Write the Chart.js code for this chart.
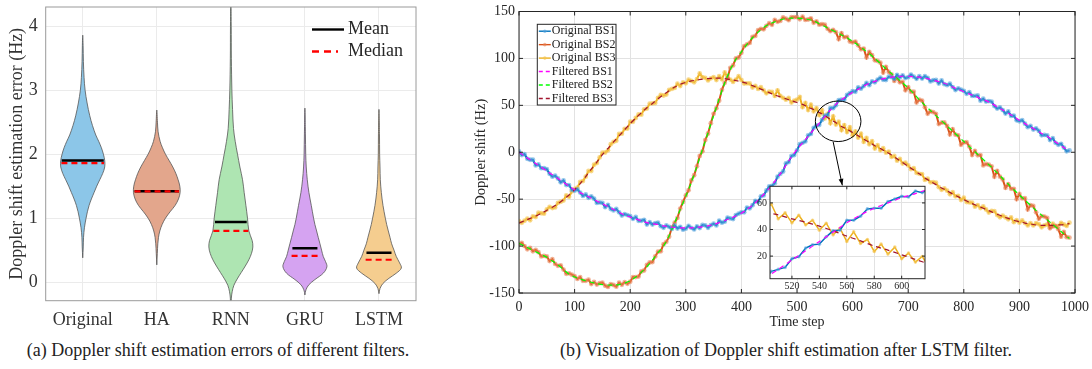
<!DOCTYPE html>
<html>
<head>
<meta charset="utf-8">
<script src="https://cdn.jsdelivr.net/npm/chart.js@4.4.0/dist/chart.umd.min.js"></script>
<style>
  body { margin: 0; background: #fff; width: 1092px; height: 369px; overflow: hidden; position: relative; font-family: 'Liberation Serif', 'Times New Roman', serif; }
  canvas { position: absolute; }
  #violin { left: 0; top: 0; }
  #doppler { left: 460px; top: 0; }
  #zoomBox { left: 740px; top: 180px; }
  .cap { position: absolute; top: 339px; font-size: 18px; line-height: 22px; text-align: center; color: #222; white-space: nowrap; }
</style>
</head>
<body>
<canvas id="violin" width="440" height="335"></canvas>
<canvas id="doppler" width="632" height="335"></canvas>
<canvas id="zoomBox" width="190" height="115"></canvas>
<div class="cap" style="left:0;width:436px">(a) Doppler shift estimation errors of different filters.</div>
<div class="cap" style="left:560px;width:430px">(b) Visualization of Doppler shift estimation after LSTM filter.</div>
<script>
// ---------- (a) violin plot data ----------
const groups = ['Original', 'HA', 'RNN', 'GRU', 'LSTM'];
const meanErr = [1.90, 1.42, 0.94, 0.53, 0.46];
const medianErr = [1.86, 1.42, 0.80, 0.41, 0.35];
// half length of the mean / median bars (group units)
const meanHalf = [0.284, 0.30, 0.214, 0.169, 0.169];
const medianHalf = [0.288, 0.30, 0.236, 0.18, 0.18];

// violin outlines: error level (Hz) -> half width (group units)
const origLevels = [0.38, 0.55, 0.7, 0.85, 1.0, 1.1, 1.2, 1.3, 1.4, 1.5, 1.6, 1.7, 1.8, 1.9, 2.0, 2.1, 2.2, 2.3, 2.45, 2.6, 2.8, 3.0, 3.2, 3.45, 3.7, 3.86];
const origWidth = [0, 0.007, 0.011, 0.023, 0.045, 0.063, 0.086, 0.117, 0.153, 0.189, 0.230, 0.270, 0.297, 0.297, 0.279, 0.252, 0.216, 0.176, 0.131, 0.095, 0.059, 0.032, 0.018, 0.009, 0.005, 0];
const haLevels = [0.27, 0.45, 0.6, 0.7, 0.8, 0.9, 1.0, 1.1, 1.2, 1.3, 1.4, 1.5, 1.6, 1.7, 1.8, 1.9, 2.0, 2.1, 2.2, 2.35, 2.5, 2.69];
const haWidth = [0, 0.007, 0.014, 0.023, 0.041, 0.072, 0.117, 0.180, 0.248, 0.293, 0.315, 0.311, 0.288, 0.257, 0.216, 0.167, 0.117, 0.077, 0.045, 0.018, 0.009, 0];
const rnnLevels = [-0.5, -0.25, -0.15, -0.05, 0.05, 0.15, 0.25, 0.35, 0.45, 0.55, 0.65, 0.8, 1.0, 1.2, 1.4, 1.6, 1.8, 2.0, 2.2, 2.4, 2.7, 3.0, 3.5, 4.0, 4.5];
const rnnWidth = [0, 0.007, 0.018, 0.041, 0.086, 0.140, 0.194, 0.243, 0.279, 0.297, 0.288, 0.243, 0.225, 0.203, 0.180, 0.158, 0.122, 0.090, 0.059, 0.036, 0.023, 0.014, 0.007, 0.005, 0];
const gruLevels = [-0.2, -0.12, -0.04, 0.04, 0.14, 0.24, 0.32, 0.4, 0.5, 0.6, 0.7, 0.8, 0.9, 1.0, 1.2, 1.4, 1.6, 1.8, 2.0, 2.3, 2.72];
const gruWidth = [0, 0.014, 0.054, 0.135, 0.248, 0.297, 0.279, 0.248, 0.225, 0.203, 0.180, 0.158, 0.135, 0.117, 0.086, 0.054, 0.032, 0.018, 0.011, 0.007, 0];
const lstmLevels = [-0.18, -0.1, -0.02, 0.06, 0.14, 0.22, 0.3, 0.4, 0.5, 0.6, 0.7, 0.8, 0.9, 1.0, 1.2, 1.4, 1.6, 1.8, 2.0, 2.3, 2.7];
const lstmWidth = [0, 0.014, 0.054, 0.135, 0.234, 0.302, 0.279, 0.234, 0.203, 0.171, 0.149, 0.126, 0.104, 0.086, 0.054, 0.032, 0.018, 0.014, 0.009, 0.007, 0];

// ---------- (b) Doppler shift traces ----------
// originals sampled every 5 steps (t = 0..990), filtered every 10 steps
const bs1Orig = [1,-3,-2,-7,-8,-8,-14,-13,-17,-17, -18,-23,-26,-25,-28,-32,-30,-35,-35,-40,
  -41,-39.5,-43,-46.5,-45,-48.5,-47,-49.5,-54,-53.5, -54,-58.5,-56,-60.5,-62,-60.5,-64,-67.5,-66,-67,
  -68,-71,-69,-73,-73,-72,-77,-74.5,-77,-75.5, -75,-78.75,-80.5,-78,-79.5,-81.75,-78,-81.25,-79.5,-82.5,
  -81.5,-78.5,-80.5,-82.25,-79,-80.75,-77.5,-78,-80.5,-77.75, -76,-78,-73,-75,-74,-69.75,-70.5,-71.25,-67,-65.5,
  -64,-64,-59,-59.75,-56.5,-51.75,-53,-47,-46,-40.75, -36.5,-35.75,-33,-26,-23,-20.5,-12,-10.5,-4,-3,
  2,8.5,10,11.5,18,19.5,26,28.5,29,34.5, 39,39.5,47,47,50,55.5,56,56,61,63,
  65,64.5,69,67.75,70.5,74,71.5,75.5,74.5,77.5, 79.5,77.25,77,80.5,80,78.25,82.5,79.75,82,79,
  80,82.75,80.5,78.25,81,78.5,81,79.25,75.5,76.75, 77,73.25,76.5,72.5,71.5,73,69.5,66.25,68,66.75,
  65.5,62.25,64,60,60,60.5,55,57,54,54.5, 54,49.25,46.5,47.75,45,41.25,43.5,38.75,39,34,
  33,34.25,30.5,26.75,28,24.25,25.5,22.75,18,18.5, 18,13,15,10,8,9,5,1,2];
const bs2Orig = [-98,-96.5,-100,-103.5,-102,-105.5,-104,-106.5,-111,-110.5, -111,-116,-114,-119,-121,-120.5,-125,-129.5,-129,-130.5,
  -132,-135,-133,-137,-137,-135.75,-140.5,-138.25,-141,-139.5, -139,-142.25,-143.5,-140.5,-141.5,-143.25,-139,-141.25,-138.5,-140.25,
  -138,-133,-133,-132.5,-127,-126,-120,-117.5,-117,-111, -106,-105.5,-98,-95.5,-90,-80,-75,-70,-60,-53,
  -46,-40.5,-30,-24.5,-15,-4,1,13,20,31, 41,47,55,66.5,74,79,90,92.5,100,101,
  106,113,115,116.5,123,124,130,131.5,131,134.75, 137.5,135.75,141,139,140,143.75,142.5,140.75,144,144,
  144,141.75,144.5,141,141.5,142.75,138,139.5,136,136.5, 136,131.5,129,130.5,128,120.5,127,122.5,123,118,
  117,118,114,109.75,110.5,101,107,103.5,98,97.25, 95.5,85,91,85.5,83,76,79,74.5,75,66,
  69.5,64.5,64.5,53,56,55,48,41,43.5,42.75, 41,30,31.5,31.75,28,19,24.5,18.75,18,8,
  10.5,10.75,6,-3,1.5,-3.25,-3,-14,-12.5,-13.25, -15,-26,-20,-26,-29,-38,-34,-39,-39,-50,
  -44.5,-49.25,-49,-61,-56.5,-57.25,-64,-71,-68,-68.5, -70,-81,-79,-78.5,-82,-90,-85,-90.5,-91];
const bs3Orig = [-73.5,-75.25,-73,-70.75,-72.5,-68.25,-69,-64.5,-65,-65.5, -61,-58.25,-59.5,-58.75,-54,-52.75,-51.5,-46,-47.5,-41.75,
  -39,-37.75,-31.5,-30.75,-26,-20,-20,-13.25,-11.5,-5.5, -0.5,-0.25,2,8.5,11,12.25,19.5,19.75,25,25.25,
  32.5,32.5,36.5,40.25,40,45.75,46.5,51.75,52,52.5, 58,61.25,60.5,61.5,66.5,67.5,68.5,73,70.5,74.5,
  73.5,77.25,76,74.5,78,84,80,79.25,76.5,78.75, 80,77,81,77.75,85,80,77.5,75,77.5,81,
  77,73.25,73.5,73.25,69,70.75,67.5,69.25,66,62.75, 64.5,64.25,60,66,60,58,56,58,53,55,
  56,59,48,52.5,45,50.75,43.5,47,39.5,44.75, 36,41,31,38.25,29.5,32.5,23.5,29,21.5,26.75,
  18,22.25,15.5,19.75,11,15.25,8.5,11.75,4,7.5, 2,4.25,-0.5,0.75,-5,-4,-9,-7,-12,-11,
  -14,-18,-17,-22,-23,-23.25,-29.5,-28.25,-32,-31.75, -32.5,-37.25,-40,-38.5,-41,-44.75,-42.5,-47,-46.5,-51,
  -48.5,-53,-53.5,-53.75,-58,-56.25,-59.5,-57.75,-61,-64.25, -62.5,-62.75,-67,-69.25,-67.5,-69.5,-71.5,-69.5,-74.5,-72.25,
  -75,-72.75,-75.5,-78,-75.5,-78,-75.5,-76.75,-80,-78, -77,-80,-76,-78.75,-78.5,-75.25,-77,-78.5,-75];
const bs1Filt = [0,-4,-8,-12,-16,-20,-24,-28,-32,-36, -40,-43,-46,-49,-52,-55,-58,-61,-64,-67,
  -69,-71,-73,-75,-76,-77,-78.5,-79.5,-80,-80.5, -80.5,-80.5,-80,-79.5,-78.5,-77,-75,-73,-70.5,-68,
  -65,-61,-56.5,-51,-45,-38.5,-31,-23,-14,-5, 3,10,17,24,31,38,45,51,56,60,
  64,67,70.5,73.5,75.5,77.5,79,80,80.5,81, 81,80.5,80,79,77.5,76,74.5,72.5,69.5,67,
  64.5,62,60,57,55,52,48.5,45,41.5,38, 34,30.5,27,23.5,20,17,13,9,5,1];
const bs2Filt = [-97,-100,-103,-106,-109,-112,-116,-120,-125,-130, -133,-135,-137,-138.5,-140,-141,-141.5,-141.5,-141,-139.5,
  -137,-133,-128,-122,-115,-107,-100,-89,-75,-61, -47,-32,-15,3,21,39,57,74,88,99,
  107,115,122,128,133,136.5,139,141,142.5,143, 143,142.5,141.5,140,137,134,131,128,125,122,
  118,114,109.5,105,100,94.5,89,84,79,74, 68.5,62.5,56,50,44.5,39,33.5,28,22.5,17,
  11.5,6,0.5,-5,-10.5,-16,-22,-28,-34,-40, -45.5,-51,-56.5,-62,-67,-72,-77,-82,-87,-92];
const bs3Filt = [-75.5,-73,-70.5,-68,-65,-62,-58.5,-55,-50.5,-45.5, -40,-33.5,-26,-18,-10.5,-2.5,4,11,17.5,24,
  30.5,36.5,42,47.5,52,57,61.5,65.5,69.5,72.5, 74.5,76,77,78,78.5,79,79,78.5,77.5,76.5,
  75,73.5,71,68.5,66,63.5,61,59,57,55, 53,51,48,45.5,42.5,39,35,31.5,27.5,24.5,
  21,17.5,14,10.5,7,4,0.5,-3,-7,-11, -15,-19,-23,-27.5,-31,-34.5,-38,-41,-44.5,-47.5,
  -50.5,-53.5,-56,-58.5,-61,-63.5,-66,-68.5,-70.5,-72.5, -74,-75.5,-76.5,-77.5,-78,-78,-78,-77.5,-77,-76];
const origStep = 5, filtStep = 10;
const seriesNames = ['Original BS1', 'Original BS2', 'Original BS3', 'Filtered BS1', 'Filtered BS2', 'Filtered BS3'];
const timeTicks = [0, 100, 200, 300, 400, 500, 600, 700, 800, 900, 1000];
const shiftTicks = [-150, -100, -50, 0, 50, 100, 150];
const zoomTimeTicks = [520, 540, 560, 580, 600];
const zoomShiftTicks = [20, 40, 60];

Chart.defaults.font.family = "'Liberation Serif', 'Times New Roman', serif";
Chart.defaults.color = '#262626';
Chart.defaults.animation = false;
Chart.defaults.events = [];
Chart.defaults.plugins.legend.display = false;
Chart.defaults.plugins.tooltip.enabled = false;

// no extra room for half tick labels: the plot boxes are placed by hand
const noPad = s => { s.paddingTop = 0; s.paddingBottom = 0; s.paddingLeft = 0; s.paddingRight = 0; };

// ---------------- (a) ----------------
const levels = [origLevels, haLevels, rnnLevels, gruLevels, lstmLevels];
const widths = [origWidth, haWidth, rnnWidth, gruWidth, lstmWidth];
const violinFill = ['#8cc6e8', '#e3a68c', '#aee5b2', '#d5a3f1', '#f5cd8f'];

function outline(c, lv, w) {
  const pts = lv.map((y, k) => ({x: c + w[k], y: y}));
  for (let k = lv.length - 2; k > 0; k--) pts.push({x: c - w[k], y: lv[k]});
  pts.push({x: c, y: lv[0]});
  return pts;
}
function bars(vals, half) {
  const pts = [];
  vals.forEach((v, i) => {
    pts.push({x: i + 1 - half[i], y: v}, {x: i + 1 + half[i], y: v}, {x: i + 1.5, y: null});
  });
  return pts;
}

const violinSets = groups.map((g, i) => ({
  label: g,
  data: outline(i + 1, levels[i], widths[i]),
  backgroundColor: violinFill[i],
  borderColor: '#555',
  borderWidth: 0.8,
  fill: 'shape',
  tension: 0.35,
  pointRadius: 0
}));

const violinFrame = {
  id: 'violinFrame',
  afterDraw(chart) {
    const {ctx, chartArea: a} = chart;
    ctx.save();
    ctx.strokeStyle = '#9a9a9a';
    ctx.lineWidth = 1;
    ctx.strokeRect(a.left, a.top, a.right - a.left, a.bottom - a.top);
    // legend
    ctx.lineWidth = 2.4;
    ctx.strokeStyle = '#000';
    ctx.beginPath(); ctx.moveTo(a.right - 104, a.top + 22.5); ctx.lineTo(a.right - 72, a.top + 22.5); ctx.stroke();
    ctx.strokeStyle = '#ff0000';
    ctx.setLineDash([7, 5]);
    ctx.beginPath(); ctx.moveTo(a.right - 104, a.top + 44.5); ctx.lineTo(a.right - 78, a.top + 44.5); ctx.stroke();
    ctx.setLineDash([]);
    ctx.fillStyle = '#262626';
    ctx.font = "18px 'Liberation Serif'";
    ctx.textBaseline = 'middle';
    ctx.fillText('Mean', a.right - 68, a.top + 22.5);
    ctx.fillText('Median', a.right - 68, a.top + 44.5);
    ctx.restore();
  }
};

new Chart(document.getElementById('violin'), {
  type: 'line',
  data: {
    datasets: [
      {label: 'Median', data: bars(medianErr, medianHalf), borderColor: '#ff0000', borderWidth: 2.2, borderDash: [6, 4], pointRadius: 0, fill: false},
      {label: 'Mean', data: bars(meanErr, meanHalf), borderColor: '#000', borderWidth: 2.4, pointRadius: 0, fill: false}
    ].concat(violinSets)
  },
  options: {
    responsive: false,
    layout: {padding: {left: 0, right: 24, top: 7, bottom: 0}},
    scales: {
      x: {
        type: 'linear', min: 0.5, max: 5.5,
        afterBuildTicks: s => { s.ticks = groups.map((g, i) => ({value: i + 1})); },
        afterFit: s => { s.height = 34.3; noPad(s); },
        ticks: {callback: v => groups[v - 1], font: {size: 18}, padding: 9, color: '#333'},
        grid: {color: '#ebebeb', drawTicks: false},
        border: {display: false}
      },
      y: {
        min: -0.29, max: 4.3,
        afterBuildTicks: s => { s.ticks = [0, 1, 2, 3, 4].map(v => ({value: v})); },
        afterFit: s => { s.width = 45.7; noPad(s); },
        ticks: {callback: v => String(v), font: {size: 18}, padding: 8, color: '#333'},
        grid: {color: '#ebebeb', drawTicks: false},
        border: {display: false},
        title: {display: true, text: 'Doppler shift estimation error (Hz)', font: {size: 18}, padding: {top: 6, bottom: 0}, color: '#333'}
      }
    }
  },
  plugins: [violinFrame]
});

// ---------------- (b) ----------------
const origColor = ['#0072bd', '#d95319', '#edb120'];
const haloColor = ['rgba(80,160,220,0.6)', 'rgba(232,130,85,0.6)', 'rgba(244,196,80,0.65)'];
const filtColor = ['#ff00ff', '#00ff00', '#a2142f'];
const origData = [bs1Orig, bs2Orig, bs3Orig];
const filtData = [bs1Filt, bs2Filt, bs3Filt];

function traceSets(r, w) {
  const sets = [];
  origData.forEach((arr, i) => sets.push({
    label: seriesNames[i],
    data: arr.map((v, k) => ({x: k * origStep, y: v})),
    borderColor: origColor[i], borderWidth: w,
    pointRadius: r, pointBorderWidth: 0, pointBackgroundColor: haloColor[i],
    fill: false, tension: 0, order: 1
  }));
  filtData.forEach((arr, i) => sets.push({
    label: seriesNames[i + 3],
    data: arr.map((v, k) => ({x: k * filtStep, y: v})),
    borderColor: filtColor[i], borderWidth: 1.2, borderDash: [5, 4],
    pointRadius: 0, fill: false, tension: 0.2, order: 0
  }));
  return sets;
}

function boxWithTicks(chart, len) {
  const {ctx, chartArea: a, scales} = chart;
  ctx.save();
  ctx.strokeStyle = '#262626';
  ctx.lineWidth = 1;
  ctx.beginPath();
  scales.x.ticks.forEach(t => {
    const px = scales.x.getPixelForValue(t.value);
    ctx.moveTo(px, a.bottom); ctx.lineTo(px, a.bottom - len);
    ctx.moveTo(px, a.top); ctx.lineTo(px, a.top + len);
  });
  scales.y.ticks.forEach(t => {
    const py = scales.y.getPixelForValue(t.value);
    ctx.moveTo(a.left, py); ctx.lineTo(a.left + len, py);
    ctx.moveTo(a.right, py); ctx.lineTo(a.right - len, py);
  });
  ctx.stroke();
  ctx.strokeRect(a.left, a.top, a.right - a.left, a.bottom - a.top);
  ctx.restore();
}

const dopplerDecor = {
  id: 'dopplerDecor',
  afterDatasetsDraw(chart) {
    const {ctx, scales: {x, y}} = chart;
    // zoom ellipse and arrow towards the inset
    const cx = x.getPixelForValue(574), cy = y.getPixelForValue(33);
    const rx = x.getPixelForValue(615) - cx, ry = cy - y.getPixelForValue(54.6);
    ctx.save();
    ctx.strokeStyle = '#000';
    ctx.lineWidth = 1;
    ctx.beginPath(); ctx.ellipse(cx, cy, rx, ry, 0, 0, Math.PI * 2); ctx.stroke();
    const x0 = x.getPixelForValue(565), y0 = y.getPixelForValue(11.2);
    const x1 = x.getPixelForValue(581.5), y1 = y.getPixelForValue(-35.3);
    ctx.beginPath(); ctx.moveTo(x0, y0); ctx.lineTo(x1, y1); ctx.stroke();
    const ang = Math.atan2(y1 - y0, x1 - x0);
    ctx.fillStyle = '#000';
    ctx.beginPath();
    ctx.moveTo(x1, y1);
    ctx.lineTo(x1 - 7 * Math.cos(ang - 0.35), y1 - 7 * Math.sin(ang - 0.35));
    ctx.lineTo(x1 - 7 * Math.cos(ang + 0.35), y1 - 7 * Math.sin(ang + 0.35));
    ctx.closePath(); ctx.fill();
    ctx.restore();
  },
  afterDraw(chart) {
    boxWithTicks(chart, 4);
    // legend box
    const {ctx, chartArea: a} = chart;
    const bx = a.left + 18.3, by = a.top + 12.8, bw = 78.7, bh = 80.7;
    ctx.save();
    ctx.fillStyle = '#fff';
    ctx.fillRect(bx, by, bw, bh);
    ctx.strokeStyle = '#262626';
    ctx.lineWidth = 1;
    ctx.strokeRect(bx, by, bw, bh);
    ctx.font = "12px 'Liberation Serif'";
    ctx.textBaseline = 'middle';
    chart.data.datasets.forEach((ds, i) => {
      const ry = by + 6.9 + i * 13.45;
      ctx.strokeStyle = ds.borderColor;
      ctx.lineWidth = 1.4;
      ctx.setLineDash(i < 3 ? [] : [4, 3]);
      ctx.beginPath(); ctx.moveTo(bx + 1.5, ry); ctx.lineTo(bx + 13.5, ry); ctx.stroke();
      ctx.setLineDash([]);
      if (i < 3) {
        ctx.fillStyle = ds.pointBackgroundColor;
        ctx.beginPath(); ctx.arc(bx + 7.5, ry, 1.8, 0, Math.PI * 2); ctx.fill();
      }
      ctx.fillStyle = '#1a1a1a';
      ctx.fillText(ds.label, bx + 14.5, ry);
    });
    ctx.restore();
  }
};

new Chart(document.getElementById('doppler'), {
  type: 'line',
  data: {datasets: traceSets(2.4, 2)},
  options: {
    responsive: false,
    layout: {padding: {left: 0, right: 17, top: 11.5, bottom: 0}},
    scales: {
      x: {
        type: 'linear', min: 0, max: 1000,
        afterBuildTicks: s => { s.ticks = timeTicks.map(v => ({value: v})); },
        afterFit: s => { s.height = 42; noPad(s); },
        ticks: {callback: v => String(v), font: {size: 14}, padding: 6},
        grid: {color: '#e2e2e2', drawTicks: false},
        border: {display: false},
        title: {display: true, text: 'Time step', font: {size: 14}, padding: {top: 0, bottom: 4}}
      },
      y: {
        min: -150, max: 150,
        afterBuildTicks: s => { s.ticks = shiftTicks.map(v => ({value: v})); },
        afterFit: s => { s.width = 59; noPad(s); },
        ticks: {callback: v => String(v), font: {size: 14}, padding: 4},
        grid: {color: '#e2e2e2', drawTicks: false},
        border: {display: false},
        title: {display: true, text: 'Doppler shift (Hz)', font: {size: 14.5}, padding: {top: 12, bottom: 0}}
      }
    }
  },
  plugins: [dopplerDecor]
});

// ---------------- inset ----------------
const insetDecor = {
  id: 'insetDecor',
  beforeDraw(chart) {
    const {ctx, chartArea: a} = chart;
    ctx.save();
    ctx.fillStyle = '#fff';
    ctx.fillRect(a.left, a.top, a.right - a.left, a.bottom - a.top);
    ctx.restore();
  },
  afterDraw(chart) { boxWithTicks(chart, 3); }
};

new Chart(document.getElementById('zoomBox'), {
  type: 'line',
  data: {datasets: traceSets(1.8, 1.5)},
  options: {
    responsive: false,
    layout: {padding: {left: 0, right: 5, top: 6.3, bottom: 0}},
    scales: {
      x: {
        type: 'linear', min: 504, max: 617,
        afterBuildTicks: s => { s.ticks = zoomTimeTicks.map(v => ({value: v})); },
        afterFit: s => { s.height = 16.3; noPad(s); },
        ticks: {callback: v => String(v), font: {size: 10}, padding: 2},
        grid: {color: '#e2e2e2', drawTicks: false},
        border: {display: false}
      },
      y: {
        min: 3, max: 72.5,
        afterBuildTicks: s => { s.ticks = zoomShiftTicks.map(v => ({value: v})); },
        afterFit: s => { s.width = 30; noPad(s); },
        ticks: {callback: v => String(v), font: {size: 10}, padding: 3},
        grid: {color: '#e2e2e2', drawTicks: false},
        border: {display: false}
      }
    }
  },
  plugins: [insetDecor]
});
</script>
</body>
</html>
